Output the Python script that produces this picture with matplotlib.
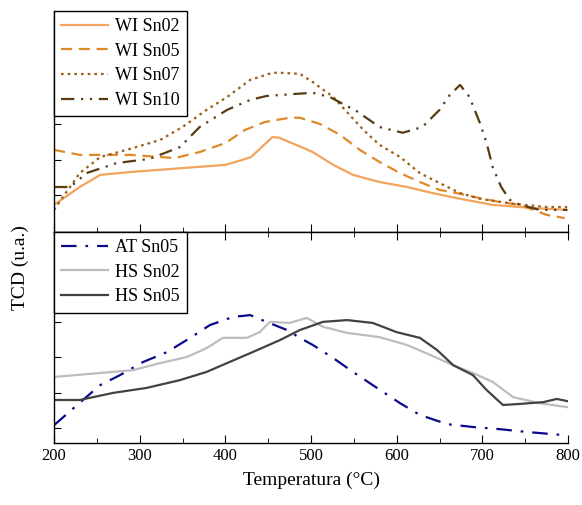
import numpy as np
import matplotlib
matplotlib.use('Agg')
from matplotlib import pyplot as plt

plt.rcParams['font.family'] = ['Liberation Serif', 'DejaVu Serif']

# top panel (WI series), values in u.a.
t_wi02 = [200, 230, 254, 289, 350, 400, 420, 430, 455, 463, 502, 526, 549, 580, 612, 642, 674, 712, 759, 800]
v_wi02 = [0.73, 1.23, 1.57, 1.65, 1.76, 1.85, 1.99, 2.07, 2.63, 2.61, 2.21, 1.85, 1.57, 1.37, 1.23, 1.06, 0.90, 0.73, 0.64, 0.59]

t_wi05 = [200, 230, 254, 289, 341, 370, 400, 423, 446, 475, 487, 510, 534, 557, 580, 604, 627, 650, 674, 697, 720, 744, 775, 796]
v_wi05 = [2.27, 2.13, 2.13, 2.13, 2.04, 2.21, 2.46, 2.83, 3.05, 3.17, 3.17, 3.00, 2.69, 2.27, 1.93, 1.62, 1.37, 1.15, 1.04, 0.92, 0.81, 0.73, 0.45, 0.36]

t_wi07 = [200, 230, 254, 292, 324, 350, 378, 402, 429, 455, 464, 487, 502, 526, 542, 561, 580, 604, 627, 650, 674, 697, 736, 775, 799]
v_wi07 = [0.59, 1.62, 2.07, 2.32, 2.55, 2.91, 3.39, 3.75, 4.23, 4.43, 4.43, 4.40, 4.17, 3.75, 3.33, 2.83, 2.41, 2.07, 1.62, 1.34, 1.06, 0.90, 0.76, 0.67, 0.67]

t_wi10 = [200, 219, 238, 273, 312, 347, 370, 402, 429, 448, 483, 502, 522, 553, 580, 607, 630, 650, 662, 674, 685, 697, 705, 712, 722, 732, 744, 767, 799]
v_wi10 = [1.23, 1.23, 1.62, 1.90, 2.02, 2.35, 2.91, 3.39, 3.67, 3.78, 3.84, 3.87, 3.75, 3.36, 2.91, 2.75, 2.91, 3.39, 3.81, 4.09, 3.75, 3.03, 2.46, 1.79, 1.23, 0.87, 0.73, 0.59, 0.59]

# bottom panel (AT / HS series)
t_at05 = [200, 227, 254, 277, 304, 332, 359, 382, 409, 429, 448, 472, 487, 502, 526, 549, 577, 604, 627, 659, 689, 720, 752, 796]
v_at05 = [0.08, 0.65, 1.21, 1.49, 1.86, 2.14, 2.54, 2.90, 3.13, 3.18, 2.99, 2.76, 2.54, 2.34, 1.97, 1.58, 1.13, 0.70, 0.37, 0.11, 0.03, -0.03, -0.11, -0.20]

t_hs02 = [200, 254, 292, 324, 355, 378, 397, 425, 440, 452, 475, 495, 514, 542, 580, 612, 639, 666, 689, 712, 736, 767, 799]
v_hs02 = [1.44, 1.55, 1.63, 1.83, 2.00, 2.25, 2.54, 2.54, 2.70, 2.99, 2.96, 3.10, 2.85, 2.68, 2.56, 2.34, 2.06, 1.77, 1.55, 1.30, 0.87, 0.70, 0.59]

t_hs05 = [200, 230, 269, 308, 347, 378, 402, 432, 464, 487, 514, 542, 572, 600, 627, 647, 666, 689, 705, 724, 744, 771, 787, 799]
v_hs05 = [0.79, 0.79, 0.99, 1.13, 1.35, 1.58, 1.83, 2.14, 2.48, 2.76, 2.99, 3.04, 2.96, 2.70, 2.54, 2.20, 1.77, 1.49, 1.07, 0.65, 0.68, 0.73, 0.82, 0.76]

xticks = [200, 300, 400, 500, 600, 700, 800]

fig = plt.figure(figsize=(5.82, 5.05), dpi=100)
ax1 = fig.add_axes([0.0928, 0.5406, 0.8832, 0.4376])
ax2 = fig.add_axes([0.0928, 0.1228, 0.8832, 0.4178])

ax1.plot(t_wi02, v_wi02, color='#f2a45c', lw=1.6, label='WI Sn02')
ax1.plot(t_wi05, v_wi05, color='#e0892a', lw=1.6, ls=(0, (5, 3)), label='WI Sn05')
ax1.plot(t_wi07, v_wi07, color='#9c5f1c', lw=1.6, ls=(0, (1.2, 1.8)), label='WI Sn07')
ax1.plot(t_wi10, v_wi10, color='#5a3a12', lw=1.6, ls=(0, (6, 3, 1, 3, 1, 3)), label='WI Sn10')

ax2.plot(t_at05, v_at05, color='#0a0a8c', lw=1.6, ls=(0, (7, 4, 1.2, 4)), label='AT Sn05')
ax2.plot(t_hs02, v_hs02, color='#bdbdbd', lw=1.6, label='HS Sn02')
ax2.plot(t_hs05, v_hs05, color='#424242', lw=1.6, label='HS Sn05')

ax1.set_ylim(-0.03, 6.16)
ax2.set_ylim(-0.42, 5.52)
ax1.set_yticks([1, 2, 3, 4, 5, 6])
ax2.set_yticks([0, 1, 2, 3, 4, 5])

for ax in (ax1, ax2):
    ax.set_xlim(200, 800)
    ax.set_xticks(xticks)
    ax.set_xticks(np.arange(250, 800, 100), minor=True)
    ax.tick_params(axis='y', direction='in', length=5, labelleft=False)
    ax.tick_params(axis='x', which='major', direction='in', length=6, labelsize=12)
    ax.tick_params(axis='x', which='minor', direction='in', length=3.5)
    ax.spines['right'].set_visible(False)
    for s in ax.spines.values():
        s.set_linewidth(1)
    leg = ax.legend(loc='upper left', borderaxespad=0, fontsize=13, handlelength=2.6,
                    labelspacing=0.42, fancybox=False, framealpha=1, edgecolor='black',
                    borderpad=0.4, handletextpad=0.4)
    leg.get_frame().set_linewidth(1)

ax1.spines['top'].set_visible(False)
ax1.tick_params(axis='x', labelbottom=False)
ax2.tick_params(axis='x', which='both', top=True)

ax2.set_xlabel('Temperatura (°C)', fontsize=14, labelpad=6)
fig.text(0.035, 0.47, 'TCD (u.a.)', rotation=90, fontsize=14, ha='center', va='center')

fig.savefig('out.png', dpi=100)
